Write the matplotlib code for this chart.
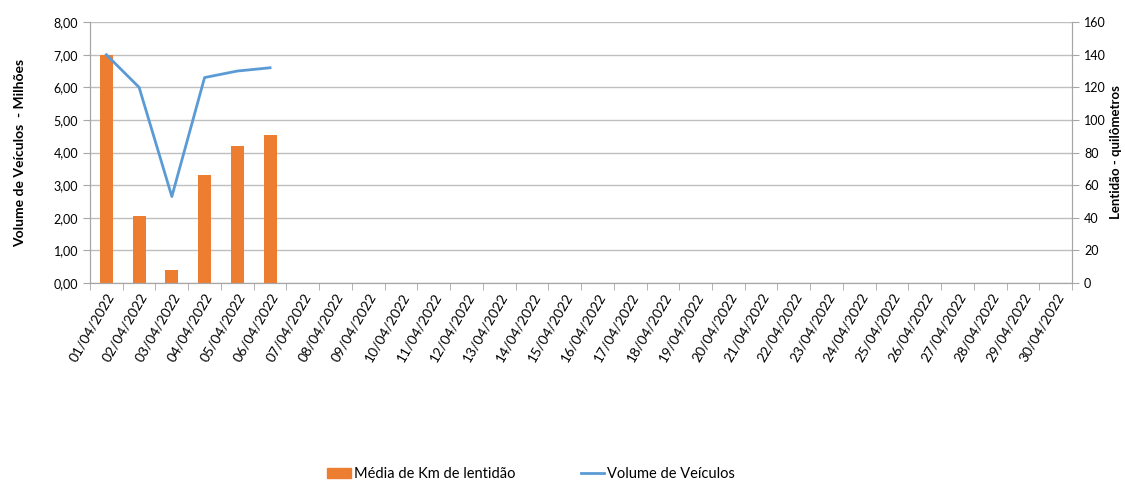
import numpy as np
import matplotlib.pyplot as plt
from matplotlib.patches import Patch
from matplotlib.lines import Line2D
from matplotlib.ticker import FuncFormatter

plt.rcParams['font.family'] = ['Lato', 'DejaVu Sans']

dates = ["%02d/04/2022" % d for d in range(1, 31)]
# Volume de Veículos (milhões) - only first 6 days have data
volume = [7.0, 6.0, 2.65, 6.3, 6.5, 6.6]
# Média de Km de lentidão
lentidao = [140, 41, 8, 66, 84, 91]

orange = "#ED7D31"
blue = "#5B9BD5"
grey = "#A6A6A6"

fig = plt.figure(figsize=(11.25, 4.92), dpi=100)
ax = fig.add_axes([0.08, 0.425, 0.873, 0.53])
ax2 = ax.twinx()

x = np.arange(len(dates))

ax2.bar(x[:len(lentidao)], lentidao, width=0.4, color=orange, zorder=2)
ax2.set_ylim(0, 160)
ax2.set_yticks(np.arange(0, 161, 20))
ax2.yaxis.grid(True, color="#BFBFBF", linewidth=1, zorder=0)
ax2.set_axisbelow(True)
ax2.set_ylabel("Lentidão - quilômetros", fontsize=9.5, fontweight="bold", labelpad=3)

ax.plot(x[:len(volume)], volume, color=blue, linewidth=2, zorder=3)
ax.set_ylim(0, 8)
ax.set_yticks(np.arange(0, 8.01, 1))
ax.yaxis.set_major_formatter(FuncFormatter(lambda v, p: ("%.2f" % v).replace(".", ",")))
ax.set_ylabel("Volume de Veículos  - Milhões", fontsize=10, fontweight="bold", labelpad=20)
ax.set_zorder(ax2.get_zorder() + 1)
ax.patch.set_visible(False)

ax.set_xlim(-0.5, len(dates) - 0.5)
ax.set_xticks(x)
ax.set_xticklabels(dates, rotation=60, ha="right", rotation_mode="anchor", fontsize=10)
ax.set_xticks(np.arange(-0.5, len(dates), 1), minor=True)
ax.tick_params(axis="x", which="major", length=0, pad=6)
ax.tick_params(axis="x", which="minor", length=5, color=grey)

for a in (ax, ax2):
    a.spines["top"].set_visible(False)
    for s in ("left", "right", "bottom"):
        a.spines[s].set_color(grey)
    a.tick_params(axis="y", length=5, color=grey, labelsize=9)

handles = [Patch(color=orange, label="Média de Km de lentidão"),
           Line2D([0], [0], color=blue, linewidth=2, label="Volume de Veículos")]
fig.legend(handles=handles, loc="lower center", bbox_to_anchor=(0.472, -0.005), ncol=2,
           frameon=False, fontsize=10.5, columnspacing=4.5, handlelength=1.6, handletextpad=0.2)

fig.savefig("out.png", dpi=100)
